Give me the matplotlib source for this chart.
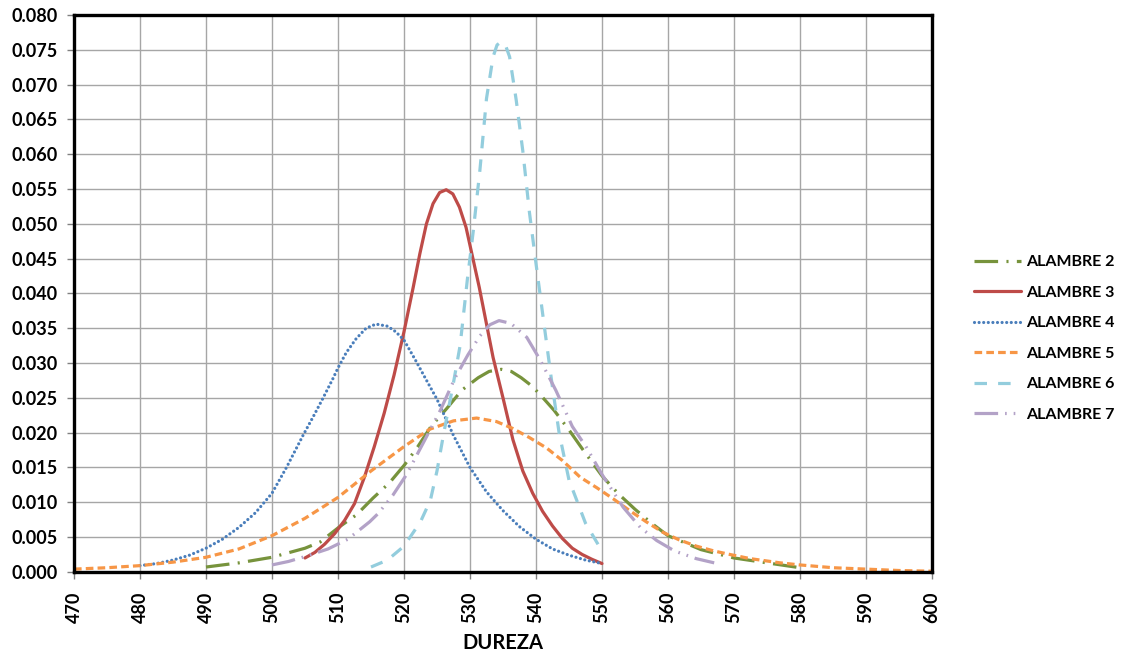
import numpy as np
import matplotlib
matplotlib.use('Agg')
import matplotlib.pyplot as plt

plt.rcParams['font.family'] = ['Lato', 'DejaVu Sans']
plt.rcParams['lines.scale_dashes'] = False

# data (x = dureza, y = density)
x_alambre2 = [490, 495, 500, 505, 507.3, 510.25, 512.8, 515.3, 517.8, 520.1, 522.1, 524.1, 526.5, 528.75,
              531.25, 532.9, 534.75, 536.25, 537.75, 539.25, 540.5, 542.75, 545, 547, 550, 552.5, 555,
              557.5, 560, 565, 570, 575, 580]
y_alambre2 = [0.0007, 0.0013, 0.0021, 0.0034, 0.0043, 0.0065, 0.0082, 0.0106, 0.0128, 0.0154, 0.0180,
              0.0209, 0.0235, 0.0261, 0.0279, 0.0288, 0.0291, 0.0288, 0.0279, 0.0268, 0.0256, 0.0232,
              0.0204, 0.0177, 0.0138, 0.0112, 0.0090, 0.0070, 0.0052, 0.0032, 0.0020, 0.0013, 0.0006]

x_alambre3 = [505, 506.5, 508, 509.5, 511, 512.5, 514, 515.5, 517, 518.5, 520, 521.4, 522.4, 523.4, 524.4,
              525.4, 526.4, 527.4, 528.4, 529.4, 530.4, 531.4, 532.4, 533.5, 535, 536.5, 538, 539.5, 541,
              542.5, 544, 545.5, 547, 548.5, 550]
y_alambre3 = [0.0020, 0.0028, 0.0040, 0.0055, 0.0074, 0.0098, 0.0136, 0.0180, 0.0228, 0.0283, 0.0345,
              0.0409, 0.0457, 0.0500, 0.0529, 0.0545, 0.0549, 0.0543, 0.0524, 0.0495, 0.0452, 0.0409,
              0.0361, 0.0308, 0.0250, 0.0190, 0.0145, 0.0113, 0.0087, 0.0066, 0.0048, 0.0034, 0.0025,
              0.0018, 0.0012]

x_alambre4 = [480, 482.5, 485, 487.5, 490, 492.5, 495, 497.5, 500, 502.25, 504.75, 506.25, 507.75, 509.25,
              510, 511.25, 512.75, 514.25, 515.75, 517.5, 518.75, 520, 521.75, 523.25, 525, 527.5, 530,
              532.5, 535, 537.5, 540, 542.5, 545, 547.5, 550]
y_alambre4 = [0.0009, 0.0012, 0.0017, 0.0024, 0.0034, 0.0047, 0.0064, 0.0085, 0.0113, 0.0151, 0.0197,
              0.0223, 0.0250, 0.0278, 0.0293, 0.0315, 0.0335, 0.0350, 0.0356, 0.0353, 0.0345, 0.0333,
              0.0304, 0.0278, 0.0248, 0.0196, 0.0150, 0.0115, 0.0088, 0.0065, 0.0047, 0.0033, 0.0024,
              0.0017, 0.0012]

x_alambre5 = [470, 475, 480, 485, 490, 495, 500, 505, 510, 515, 520, 523.9, 527.5, 531, 534, 536.5, 539,
              541.6, 544, 546.7, 549.2, 551.7, 554.2, 556.7, 559.2, 561.7, 564.3, 567, 569.4, 572.5, 577,
              580, 585, 590, 595, 600]
y_alambre5 = [0.0004, 0.0006, 0.0009, 0.0014, 0.0021, 0.0033, 0.0052, 0.0077, 0.0107, 0.0145, 0.0180,
              0.0205, 0.0217, 0.0221, 0.0216, 0.0206, 0.0193, 0.0178, 0.0160, 0.0136, 0.0121, 0.0105,
              0.0088, 0.0072, 0.0057, 0.0046, 0.0037, 0.0030, 0.0025, 0.0019, 0.0013, 0.0010, 0.0006,
              0.0004, 0.0002, 0.0001]

x_alambre6 = [515, 517.5, 520, 522.5, 524, 525, 526, 527.5, 528.5, 529.6, 530.5, 531.5, 532.5, 533.5,
              534.1, 534.8, 535.4, 536, 537, 538, 539, 540, 541.3, 542.5, 543.5, 545, 547.5, 550]
y_alambre6 = [0.0007, 0.0017, 0.0037, 0.0072, 0.0103, 0.0145, 0.0198, 0.0272, 0.0325, 0.0420, 0.0490,
              0.0577, 0.0680, 0.0740, 0.0757, 0.0762, 0.0756, 0.0740, 0.0678, 0.0605, 0.0517, 0.0443,
              0.0350, 0.0265, 0.0200, 0.0132, 0.0070, 0.0030]

x_alambre7 = [500, 502.5, 505, 508.5, 511.5, 514.8, 516.1, 518.3, 520.4, 522.9, 525.5, 527.75, 529.7,
              531.5, 533, 534.4, 536.2, 538.6, 540.6, 543, 545.5, 547.7, 550, 553.2, 555.8, 558.3, 561,
              564.3, 567]
y_alambre7 = [0.0010, 0.0015, 0.0022, 0.0033, 0.0047, 0.0072, 0.0084, 0.0110, 0.0140, 0.0185, 0.0232,
              0.0279, 0.0312, 0.0339, 0.0355, 0.0361, 0.0357, 0.0337, 0.0305, 0.0261, 0.0209, 0.0178,
              0.0140, 0.0093, 0.0064, 0.0045, 0.0030, 0.0019, 0.0013]

labels = ['ALAMBRE 2', 'ALAMBRE 3', 'ALAMBRE 4', 'ALAMBRE 5', 'ALAMBRE 6', 'ALAMBRE 7']
colores = ['#77933C', '#BE4B48', '#4A7EBB', '#F79646', '#93CDDD', '#B3A2C7']

xs = [x_alambre2, x_alambre3, x_alambre4, x_alambre5, x_alambre6, x_alambre7]
ys = [y_alambre2, y_alambre3, y_alambre4, y_alambre5, y_alambre6, y_alambre7]

# dash patterns in points
estilos = [(0, (17, 6, 1.5, 6)),
           '-',
           (0, (0.01, 3.3)),
           (0, (5.5, 3)),
           (0, (9, 8)),
           (0, (17, 5, 1.2, 5, 1.2, 5))]

fig = plt.figure(figsize=(11.21, 6.56), dpi=100)
ax = fig.add_axes([0.066, 0.1282, 0.7654, 0.8489])

for i in range(6):
    cap = 'round' if i == 2 else 'butt'
    ax.plot(xs[i], ys[i], color=colores[i], linestyle=estilos[i], lw=2.3,
            dash_capstyle=cap, solid_capstyle='round', solid_joinstyle='round', label=labels[i])

ax.set_xlim(470, 600)
ax.set_ylim(0, 0.08)
ax.set_xticks(np.arange(470, 601, 10))
ax.set_yticks(np.arange(0, 0.0801, 0.005))
ax.set_yticklabels(['%.3f' % v for v in np.arange(0, 0.0801, 0.005)])
ax.tick_params(axis='x', labelrotation=90, pad=9)
ax.tick_params(axis='y', pad=7)
ax.tick_params(axis='both', labelsize=13, direction='out', length=5, width=1, color='#808080')
for lab in ax.get_xticklabels() + ax.get_yticklabels():
    lab.set_fontweight('bold')

ax.grid(True, color='#A6A6A6', lw=1)
ax.set_axisbelow(True)
for s in ax.spines.values():
    s.set_linewidth(2.4)
    s.set_color('black')

ax.set_xlabel('DUREZA', fontsize=14.5, fontweight='bold')
ax.xaxis.set_label_coords(0.5, -0.11)

leg = ax.legend(loc='center left', bbox_to_anchor=(0.869, 0.484), bbox_transform=fig.transFigure,
                frameon=False, handlelength=2.95, handletextpad=0.3, labelspacing=1.02,
                borderpad=0, borderaxespad=0, prop={'size': 11.5, 'weight': 'bold'})

plt.savefig('out.png', dpi=100)
